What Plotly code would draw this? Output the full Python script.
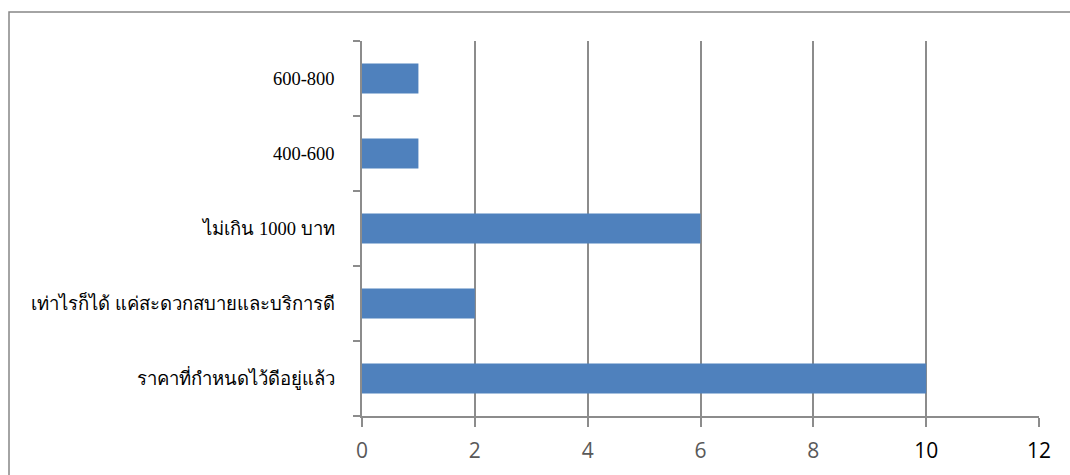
import plotly.graph_objects as go

# Answer categories (bottom to top) and response counts
categories = [
    "ราคาที่กำหนดไว้ดีอยู่แล้ว",
    "เท่าไรก็ได้ แค่สะดวกสบายและบริการดี",
    "ไม่เกิน 1000 บาท",
    "400-600",
    "600-800",
]
counts = [10, 2, 6, 1, 1]

x_ticks = [0, 2, 4, 6, 8, 10, 12]
x_tick_colors = ["#595959", "#595959", "#595959", "#595959", "#595959", "#000000", "#000000"]

fig = go.Figure(
    go.Bar(
        y=categories,
        x=counts,
        orientation="h",
        marker=dict(color="#4F81BD", line=dict(width=0)),
        width=0.4,
    )
)

fig.update_layout(
    width=1070,
    height=475,
    margin=dict(l=362, r=31, t=41, b=59),
    paper_bgcolor="white",
    plot_bgcolor="white",
    showlegend=False,
    font=dict(family="Liberation Serif, Times New Roman, serif", size=19, color="#000"),
    xaxis=dict(
        range=[0, 12],
        tickmode="array",
        tickvals=x_ticks,
        ticktext=[f"<span style='color:{c}'>{v}</span>" for v, c in zip(x_ticks, x_tick_colors)],
        tickfont=dict(family="Open Sans, Liberation Sans, sans-serif", size=21, color="#595959"),
        showgrid=True,
        gridcolor="#8C8C8C",
        gridwidth=1.5,
        ticks="outside",
        ticklen=9,
        tickcolor="#8C8C8C",
        tickwidth=1.5,
        showline=True,
        linecolor="#8C8C8C",
        linewidth=1.5,
        zeroline=False,
        ticklabelstandoff=6,
        fixedrange=True,
    ),
    yaxis=dict(
        type="category",
        categoryorder="array",
        categoryarray=categories,
        tickson="boundaries",
        ticks="outside",
        ticklen=7,
        tickcolor="#8C8C8C",
        tickwidth=1.5,
        showline=True,
        linecolor="#8C8C8C",
        linewidth=1.5,
        showgrid=False,
        ticklabelstandoff=22,
        tickfont=dict(family="Liberation Serif, Times New Roman, serif", size=18.5, color="#000"),
        fixedrange=True,
    ),
    shapes=[
        # outer chart frame
        dict(
            type="rect",
            xref="paper",
            yref="paper",
            x0=(9 - 362) / 677,
            x1=1.2,
            y0=-0.4,
            y1=(416 - 12) / 375,
            line=dict(color="#868686", width=1.5),
            fillcolor="rgba(0,0,0,0)",
            layer="below",
        )
    ],
)

fig.write_html("out.html")
